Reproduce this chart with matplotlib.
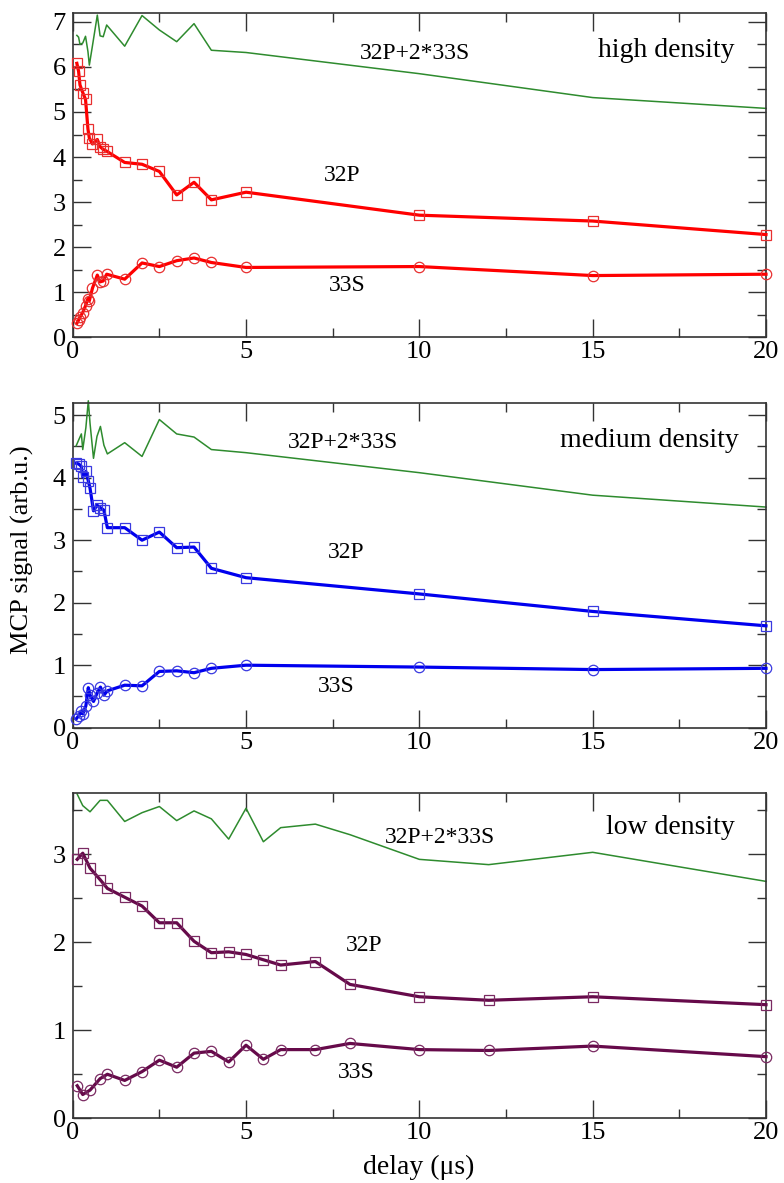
import matplotlib
matplotlib.use("Agg")
import matplotlib.pyplot as plt
from matplotlib.ticker import MultipleLocator

plt.rcParams['font.family'] = ['Liberation Serif', 'DejaVu Serif']

# ---- high density ----
hi_delay = [0.12, 0.17, 0.21, 0.29, 0.37, 0.44, 0.48, 0.57, 0.71, 0.79, 0.88, 0.98,
            1.5, 2.0, 2.5, 3.0, 3.5, 4.0, 5.0, 10, 15, 20]
hi_p32 = [6.08, 5.90, 5.60, 5.43, 5.28, 4.62, 4.42, 4.29, 4.39, 4.23, 4.17, 4.13,
          3.88, 3.84, 3.68, 3.16, 3.44, 3.05, 3.22, 2.71, 2.58, 2.28]
hi_s33 = [0.31, 0.38, 0.45, 0.55, 0.70, 0.86, 0.81, 1.09, 1.38, 1.23, 1.25, 1.40,
          1.29, 1.65, 1.57, 1.70, 1.76, 1.66, 1.55, 1.57, 1.37, 1.40]

# ---- medium density ----
med_delay = [0.10, 0.17, 0.25, 0.29, 0.38, 0.45, 0.50, 0.60, 0.70, 0.80, 0.90, 1.0,
             1.5, 2.0, 2.5, 3.0, 3.5, 4.0, 5.0, 10, 15, 20]
med_p32 = [4.23, 4.22, 4.18, 4.01, 4.10, 3.95, 3.83, 3.47, 3.56, 3.52, 3.48, 3.20,
           3.20, 3.00, 3.13, 2.88, 2.89, 2.55, 2.40, 2.14, 1.86, 1.63]
med_s33 = [0.14, 0.19, 0.26, 0.22, 0.35, 0.64, 0.52, 0.42, 0.55, 0.65, 0.52, 0.59,
           0.68, 0.67, 0.90, 0.91, 0.88, 0.95, 1.00, 0.97, 0.93, 0.95]

# ---- low density ----
low_delay = [0.13, 0.29, 0.5, 0.79, 1.0, 1.5, 2.0, 2.5, 3.0, 3.5, 4.0, 4.5, 5.0, 5.5,
             6.0, 7.0, 8.0, 10, 12, 15, 20]
low_p32 = [2.94, 3.01, 2.84, 2.71, 2.61, 2.51, 2.41, 2.22, 2.22, 2.01, 1.88, 1.89,
           1.86, 1.80, 1.74, 1.78, 1.52, 1.38, 1.34, 1.38, 1.29]
low_s33 = [0.37, 0.27, 0.32, 0.45, 0.50, 0.43, 0.53, 0.66, 0.58, 0.74, 0.76, 0.64,
           0.83, 0.67, 0.78, 0.78, 0.85, 0.78, 0.77, 0.82, 0.70]

x_ticks = [0, 5, 10, 15, 20]
sum_label = "32P+2*33S"

panels = [
    dict(delay=hi_delay, p32=hi_p32, s33=hi_s33, color="#ff0000", mec="#e83030",
         ymax=7.19, yticks=range(0, 8), title="high density",
         sum_pos=(9.87, 6.30), p_pos=(7.77, 3.59), s_pos=(7.91, 1.14),
         title_pos=(0.955, 0.885), box=(13.3, 337.3)),
    dict(delay=med_delay, p32=med_p32, s33=med_s33, color="#0000ee", mec="#3a3ae0",
         ymax=5.19, yticks=range(0, 6), title="medium density",
         sum_pos=(7.79, 4.56), p_pos=(7.89, 2.80), s_pos=(7.6, 0.66),
         title_pos=(0.96, 0.885), box=(403.3, 727.7)),
    dict(delay=low_delay, p32=low_p32, s33=low_s33, color="#660a4a", mec="#7a2a62",
         ymax=3.69, yticks=range(0, 4), title="low density",
         sum_pos=(10.6, 3.19), p_pos=(8.4, 1.96), s_pos=(8.18, 0.52),
         title_pos=(0.955, 0.895), box=(793.3, 1118.3)),
]

W, H = 784, 1183
fig = plt.figure(figsize=(W / 100, H / 100), dpi=100)
left_px, right_px = 72.7, 766.0

for p in panels:
    top_px, bot_px = p["box"]
    ax = fig.add_axes([left_px / W, 1 - bot_px / H, (right_px - left_px) / W,
                       (bot_px - top_px) / H])
    total = [a + 2 * b for a, b in zip(p["p32"], p["s33"])]
    ax.plot(p["delay"], total, color="#2e8b2e", lw=1.1, clip_on=False, zorder=2)
    ax.plot(p["delay"], p["p32"], color=p["color"], lw=2.3, marker="s", ms=7,
            mfc="none", mec=p["mec"], mew=0.9, zorder=3, clip_on=False)
    ax.plot(p["delay"], p["s33"], color=p["color"], lw=2.3, marker="o", ms=7.5,
            mfc="none", mec=p["mec"], mew=0.9, zorder=3, clip_on=False)

    ax.set_xlim(0, 20)
    ax.set_ylim(0, p["ymax"])
    ax.set_xticks(x_ticks)
    ax.set_yticks(list(p["yticks"]))
    ax.xaxis.set_minor_locator(MultipleLocator(2.5))
    ax.yaxis.set_minor_locator(MultipleLocator(0.5))
    ax.tick_params(which="both", direction="in", top=True, right=True,
                   labelsize=19, color="#333333", width=1.0)
    ax.tick_params(which="major", length=13, pad=3)
    ax.tick_params(which="minor", length=6.5)
    ax.tick_params(axis="y", which="major", pad=5)
    for s in ax.spines.values():
        s.set_color("#333333")
        s.set_linewidth(1.2)

    ax.text(*p["sum_pos"], sum_label, fontsize=17, ha="center", va="center")
    ax.text(*p["p_pos"], "32P", fontsize=17, ha="center", va="center")
    ax.text(*p["s_pos"], "33S", fontsize=17, ha="center", va="center")
    ax.text(*p["title_pos"], p["title"], fontsize=20, ha="right", va="center",
            transform=ax.transAxes)

fig.text(22 / W, 1 - 550 / H, "MCP signal (arb.u.)", rotation=90, fontsize=19,
         ha="center", va="center")
fig.text(419 / W, 1 - 1167 / H, "delay (\u03bcs)", fontsize=20, ha="center",
         va="center")

fig.savefig("out.png", dpi=100)
